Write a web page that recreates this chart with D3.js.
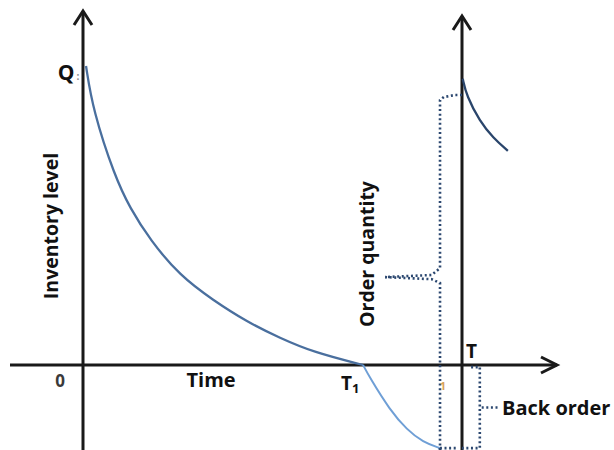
<!DOCTYPE html>
<html><head><meta charset="utf-8">
<script src="https://cdn.jsdelivr.net/npm/d3@7"></script>
<style>
html,body{margin:0;padding:0;background:#fff;}
svg{display:block;}
text{font-family:"Open Sans",sans-serif;font-weight:bold;}
</style></head>
<body><svg id="c" width="614" height="450"></svg>
<script>
// ---- data (time units, inventory units) ----
const T1 = 7.39, T = 10;
const depletionTime  = [0.08, 0.26, 0.84, 1.24, 1.77, 2.56, 3.43, 4.33, 5.2, 6.07, 7.39];
const depletionLevel = [100, 85.3, 63.0, 52.5, 41.8, 29.8, 21.7, 14.4, 9.0, 4.3, 0];
const backorderTime  = [7.39, 7.57, 8.1, 8.55, 8.97, 9.42];
const backorderLevel = [0, -4.3, -15.1, -21.7, -25.8, -27.8];
const nextCycleTime  = [10.02, 10.12, 10.47, 10.82, 11.21];
const nextCycleLevel = [95.7, 90.0, 81.5, 76.0, 71.6];
// order quantity brace (dotted)
const orderUpperTime  = [10.0, 9.81, 9.52, 9.42, 9.42, 9.2, 7.97];
const orderUpperLevel = [90.3, 90.3, 89.6, 88.6, 32.4, 30.1, 29.4];
const orderLowerTime  = [7.97, 9.2, 9.42, 9.42, 9.9];
const orderLowerLevel = [29.4, 28.7, 27.4, -27.8, -27.8];
// back order bracket (dotted)
const backTime  = [10.24, 10.47, 10.47, 10.0];
const backLevel = [-0.7, -0.7, -27.8, -27.8];
const xLabels = [{t:0, s:"0"}, {t:3.38, s:"Time"}];

const svg = d3.select("#c");
const x = d3.scaleLinear().domain([0, 10]).range([83, 462]);
const y = d3.scaleLinear().domain([0, 100]).range([365, 66]);

const line = (ts, vs, curve) => d3.line().x(d => x(d[0])).y(d => y(d[1])).curve(curve)(ts.map((t, i) => [t, vs[i]]));

// axes
const axisColor = "#1a1a1a";
const g = svg.append("g").attr("stroke", axisColor).attr("stroke-width", 3).attr("fill", "none");
g.append("line").attr("x1", x(0)).attr("x2", x(0)).attr("y1", 11).attr("y2", 450);
g.append("line").attr("x1", x(T)).attr("x2", x(T)).attr("y1", 16).attr("y2", 450);
g.append("line").attr("x1", 10).attr("x2", 557).attr("y1", y(0)).attr("y2", y(0));
g.append("path").attr("d", `M${x(0)-9},${25} L${x(0)},${11} L${x(0)+9},${25}`);
g.append("path").attr("d", `M${x(T)-9},${30} L${x(T)},${16} L${x(T)+9},${30}`);
g.append("path").attr("d", `M541,${y(0)-8} L557,${y(0)} L541,${y(0)+8}`);

// curves
svg.append("path").attr("d", line(depletionTime, depletionLevel, d3.curveBasis))
  .attr("fill", "none").attr("stroke", "#4a6f9e").attr("stroke-width", 2.3);
svg.append("path").attr("d", line(backorderTime, backorderLevel, d3.curveBasis))
  .attr("fill", "none").attr("stroke", "#6f9fd6").attr("stroke-width", 2);
svg.append("path").attr("d", line(nextCycleTime, nextCycleLevel, d3.curveBasis))
  .attr("fill", "none").attr("stroke", "#2a456b").attr("stroke-width", 2.3);

// dotted annotations
const dot = (ts, vs) => svg.append("path").attr("d", line(ts, vs, d3.curveLinear))
  .attr("fill", "none").attr("stroke", "#2c4870").attr("stroke-width", 2.6)
  .attr("stroke-dasharray", "2,2.6");
dot(orderUpperTime, orderUpperLevel);
dot(orderLowerTime, orderLowerLevel);
dot([9.42, 9.42], [-27.8, -30]);
dot(backTime, backLevel);
dot([10.52, 10.98], [-14.2, -14.2]);

// text
svg.selectAll("text.xl").data(xLabels).enter().append("text")
  .attr("x", d => d.t === 0 ? 60 : x(d.t)).attr("y", 387)
  .attr("text-anchor", "middle").attr("font-size", d => d.t === 0 ? 17 : 20)
  .attr("fill", d => d.t === 0 ? "#3a3a3a" : "#111").text(d => d.s);

svg.append("text").attr("x", 66).attr("y", 80).attr("text-anchor", "middle")
  .attr("font-size", 21).attr("fill", "#111").text("Q");
svg.append("text").attr("x", 78).attr("y", 80).attr("text-anchor", "middle")
  .attr("font-size", 10).attr("fill", "#888").text(":");

const t1 = svg.append("text").attr("x", 341).attr("y", 390).attr("font-size", 19).attr("fill", "#111");
t1.append("tspan").text("T");
t1.append("tspan").attr("font-size", 13).attr("dy", 3).text("1");

svg.append("text").attr("x", 466).attr("y", 358).attr("font-size", 19).attr("fill", "#111").text("T");
svg.append("text").attr("x", 443).attr("y", 390).attr("text-anchor", "middle")
  .attr("font-size", 11).attr("font-weight", "normal").attr("fill", "#d9a25a").text("1");

svg.append("text").attr("transform", `translate(58,226) rotate(-90)`).attr("text-anchor", "middle")
  .attr("font-size", 19.5).attr("fill", "#111").text("Inventory level");
svg.append("text").attr("transform", `translate(374,254) rotate(-90)`).attr("text-anchor", "middle")
  .attr("font-size", 19.5).attr("fill", "#111").text("Order quantity");
svg.append("text").attr("x", 502).attr("y", 415).attr("font-size", 20).attr("fill", "#111").text("Back order");
</script></body></html>
